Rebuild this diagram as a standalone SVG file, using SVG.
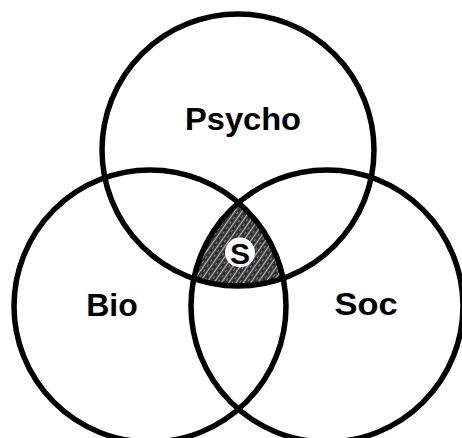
<svg xmlns="http://www.w3.org/2000/svg" width="462" height="438" viewBox="0 0 462 438">
<style>
.ring{fill:none;stroke:#000;stroke-width:5.5}
.lbl{font-family:"Liberation Sans",Arial,sans-serif;font-weight:bold;fill:#000;text-anchor:middle}
</style>
<defs>
<pattern id="hatch" width="6" height="6" patternUnits="userSpaceOnUse" patternTransform="rotate(-55)">
<rect width="6" height="6" fill="#2e2e2e"/>
<line x1="0" y1="1.5" x2="6" y2="1.5" stroke="#bbb" stroke-width="1.3"/>
<line x1="2" y1="4.5" x2="5" y2="4.5" stroke="#888" stroke-width="1"/>
</pattern>
</defs>
<rect width="462" height="438" fill="#fff"/>
<g id="core">
<path d="M238.5 202.7 A136 136 0 0 0 193.8 278.6 A136 136 0 0 0 283.1 278.3 A136 136 0 0 0 238.5 202.7 Z" fill="url(#hatch)"/>
</g>
<g id="psycho"><circle class="ring" cx="238" cy="150" r="136"/><text class="lbl" x="243" y="130" font-size="32" textLength="116" lengthAdjust="spacingAndGlyphs">Psycho</text></g>
<g id="bio"><circle class="ring" cx="150" cy="306" r="136"/><text class="lbl" x="112" y="316" font-size="32">Bio</text></g>
<g id="soc"><circle class="ring" cx="327" cy="306" r="136"/><text class="lbl" x="366" y="315" font-size="32" textLength="63" lengthAdjust="spacingAndGlyphs">Soc</text></g>
<g id="s"><circle cx="240" cy="252.5" r="15" fill="#fff"/><text class="lbl" x="240" y="263.5" font-size="30">S</text></g>
</svg>
